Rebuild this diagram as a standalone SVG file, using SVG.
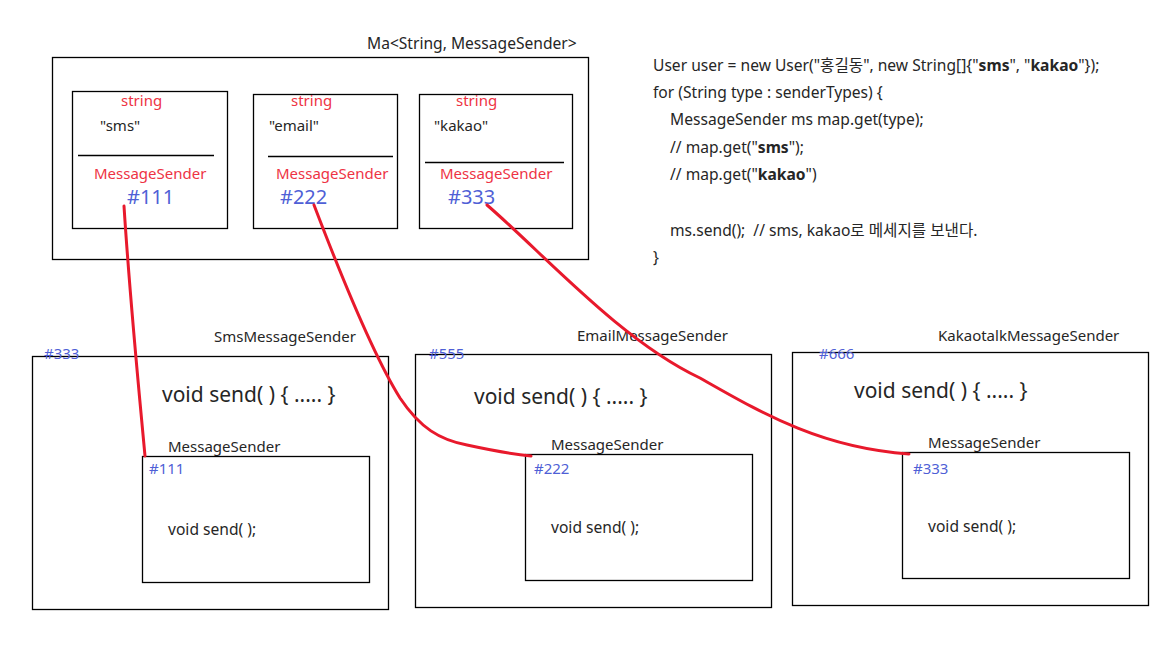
<svg xmlns="http://www.w3.org/2000/svg" width="1152" height="648" viewBox="0 0 1152 648">
<style>
text{font-family:"Noto Sans","Noto Sans CJK KR",sans-serif;font-size:15px;fill:#262626}
.box{fill:none;stroke:#000;stroke-width:1.3}
.sep{stroke:#000;stroke-width:1.3}
.red{fill:#ee3344}
.blue{fill:#4f5fd6}
.big{font-size:20px}
.vs{font-size:21px}
.code{font-size:15.6px;white-space:pre}
.t{font-size:15.6px}
.hash{font-size:15px}
.b{font-weight:bold}
.conn{fill:none;stroke:#e8192c;stroke-width:3;stroke-linecap:round}
</style>
<rect width="1152" height="648" fill="#fff"/>

<g id="map">
<text class="t" x="367" y="49">Ma&lt;String, MessageSender&gt;</text>
<rect class="box" x="52.5" y="57.5" width="536" height="202"/>
</g>

<g id="entry-sms">
<rect class="box" x="72.5" y="91.5" width="155" height="137"/>
<text class="red" x="121" y="106">string</text>
<text x="100" y="131">"sms"</text>
<line class="sep" x1="78" y1="155.5" x2="214" y2="155.5"/>
<text class="red" x="94" y="179">MessageSender</text>
<text class="blue big" x="127" y="204">#111</text>
</g>

<g id="entry-email">
<rect class="box" x="253.5" y="94.5" width="144" height="134"/>
<text class="red" x="291" y="106">string</text>
<text x="269" y="131">"email"</text>
<line class="sep" x1="268" y1="156.5" x2="393" y2="156.5"/>
<text class="red" x="276" y="179">MessageSender</text>
<text class="blue big" x="280" y="204">#222</text>
</g>

<g id="entry-kakao">
<rect class="box" x="419.5" y="94.5" width="153" height="134"/>
<text class="red" x="456" y="106">string</text>
<text x="434" y="131">"kakao"</text>
<line class="sep" x1="425" y1="162.5" x2="564" y2="162.5"/>
<text class="red" x="440" y="179">MessageSender</text>
<text class="blue big" x="448" y="204">#333</text>
</g>

<g id="code">
<text class="code" x="653" y="71">User user = new User("홍길동", new String[]{"<tspan class="b">sms</tspan>", "<tspan class="b">kakao</tspan>"});</text>
<text class="code" x="653" y="98">for (String type : senderTypes) {</text>
<text class="code" x="670" y="125">MessageSender ms map.get(type);</text>
<text class="code" x="670" y="153">// map.get("<tspan class="b">sms</tspan>");</text>
<text class="code" x="670" y="180">// map.get("<tspan class="b">kakao</tspan>")</text>
<text class="code" x="670" y="236">ms.send();  // sms, kakao로 메세지를 보낸다.</text>
<text class="code" x="653" y="263">}</text>
</g>

<g id="sms-sender">
<text x="214" y="342">SmsMessageSender</text>
<rect class="box" x="32.5" y="356.5" width="356" height="253"/>
<text class="blue hash" x="44" y="359">#333</text>
<text class="vs" x="162" y="402">void send( ) { ..... }</text>
<text x="168" y="452">MessageSender</text>
<rect class="box" x="142.5" y="456.5" width="227" height="126"/>
<text class="blue hash" x="149" y="474">#111</text>
<text class="t" x="168" y="535">void send( );</text>
</g>

<g id="email-sender">
<text x="577" y="341">EmailMessageSender</text>
<rect class="box" x="415.5" y="354.5" width="356" height="253"/>
<text class="blue hash" x="429" y="359">#555</text>
<text class="vs" x="474" y="404">void send( ) { ..... }</text>
<text x="551" y="450">MessageSender</text>
<rect class="box" x="525.5" y="454.5" width="227" height="126"/>
<text class="blue hash" x="534" y="474">#222</text>
<text class="t" x="551" y="533">void send( );</text>
</g>

<g id="kakao-sender">
<text x="938" y="341">KakaotalkMessageSender</text>
<rect class="box" x="792.5" y="352.5" width="356" height="253"/>
<text class="blue hash" x="819" y="359">#666</text>
<text class="vs" x="854" y="398">void send( ) { ..... }</text>
<text x="928" y="448">MessageSender</text>
<rect class="box" x="902.5" y="452.5" width="227" height="126"/>
<text class="blue hash" x="913" y="474">#333</text>
<text class="t" x="928" y="532">void send( );</text>
</g>

<g id="connectors">
<path class="conn" d="M124,206 C130,300 138,380 145,456"/>
<path class="conn" d="M314,205 C335,260 370,350 400,398 C420,428 440,440 467,445 C490,450 510,454 531,456"/>
<path class="conn" d="M487,205 C545,255 620,340 700,378 C760,412 820,448 909,454"/>
</g>
</svg>
